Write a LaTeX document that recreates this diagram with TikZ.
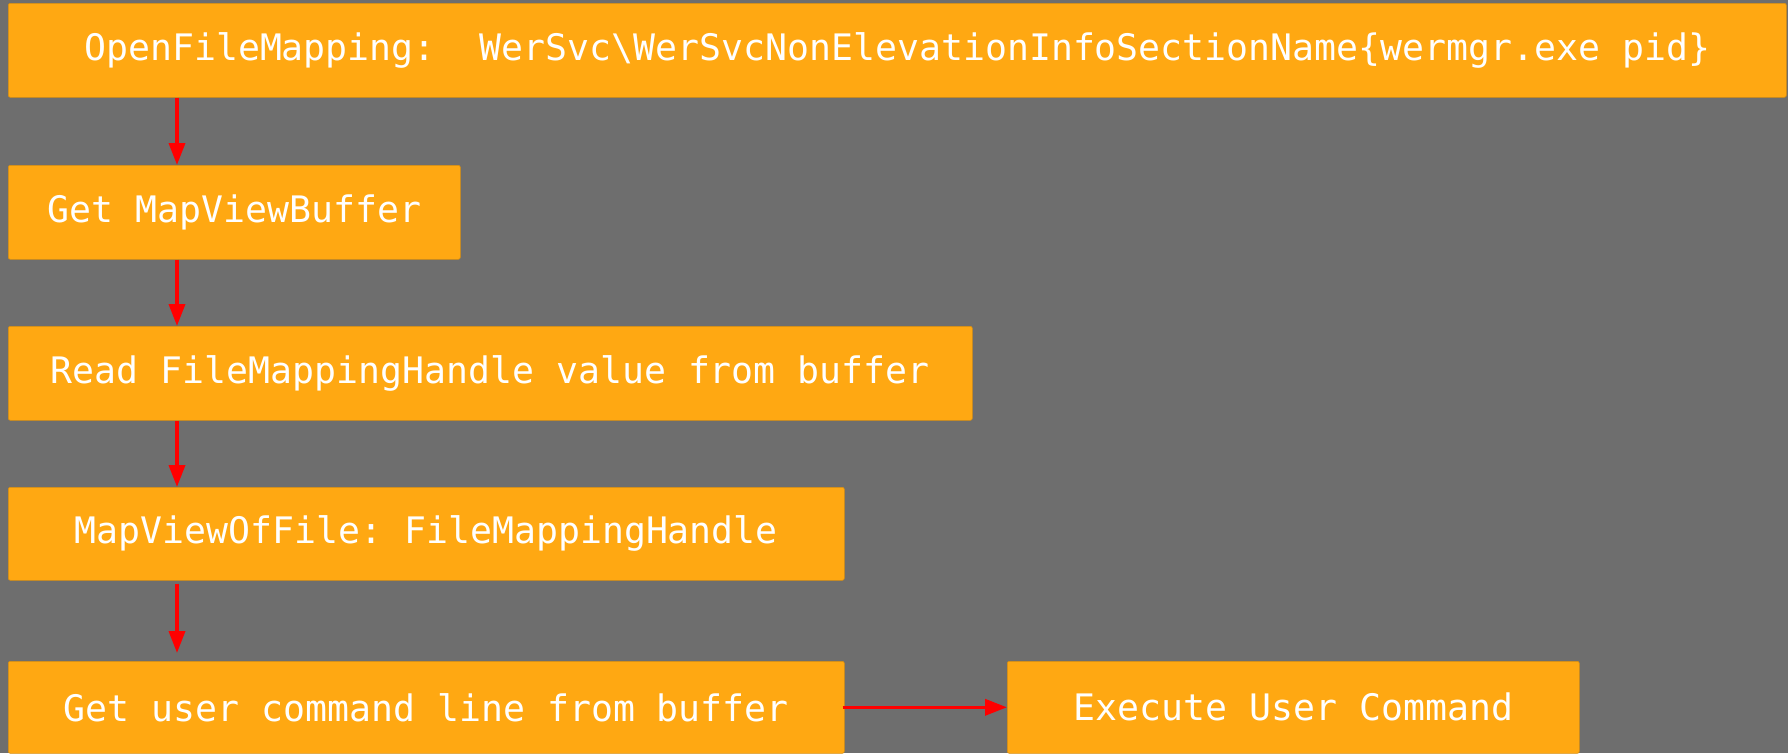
\documentclass[tikz,border=0pt]{standalone}
\usepackage{fontspec}
\setmonofont{DejaVu Sans Mono}
\usetikzlibrary{arrows.meta,calc}
\definecolor{bggray}{RGB}{110,110,110}
\definecolor{boxorange}{RGB}{255,168,18}
\definecolor{arrred}{RGB}{255,0,0}
\begin{document}
\begin{tikzpicture}[x=1pt,y=-1pt,
  stepbox/.style={fill=boxorange, draw=boxorange!85!black, line width=0.6pt, rounded corners=2pt,
    anchor=north west, inner sep=0pt, text=white,
    font=\ttfamily\fontsize{36.5}{44}\selectfont},
  arr/.style={draw=arrred, line width=3.6pt, -{Triangle[width=16pt,length=22pt]}}]
\fill[bggray] (0,0) rectangle (1788,753);
\useasboundingbox (0,0) rectangle (1788,753);
\node[stepbox, minimum width=1778pt, minimum height=94pt] (b1) at (8,3)
  {OpenFileMapping:\ \ WerSvc\textbackslash WerSvcNonElevationInfoSectionName\{wermgr.exe pid\}};
\node[stepbox, minimum width=452pt, minimum height=94pt] (b2) at (8,165) {Get MapViewBuffer};
\node[stepbox, minimum width=964pt, minimum height=94pt] (b3) at (8,326) {Read FileMappingHandle value from buffer};
\node[stepbox, minimum width=836pt, minimum height=93pt] (b4) at (8,487) {MapViewOfFile: FileMappingHandle};
\node[stepbox, minimum width=836pt, minimum height=92pt] (b5) at (8,661) {Get user command line from buffer};
\node[stepbox, minimum width=572pt, minimum height=92pt] (b6) at (1007,661) {Execute User Command};
\coordinate (col) at (177,0);
\coordinate (stop5) at (177,653);
\draw[arr] (b1.south -| col) -- (b2.north -| col);
\draw[arr] (b2.south -| col) -- (b3.north -| col);
\draw[arr] (b3.south -| col) -- (b4.north -| col);
\draw[arr] ($(b4.south -| col)+(0,3)$) -- (stop5);
\draw[arr] ($(b5.east)+(-2,0)$) -- (b6.west);
\end{tikzpicture}
\end{document}
